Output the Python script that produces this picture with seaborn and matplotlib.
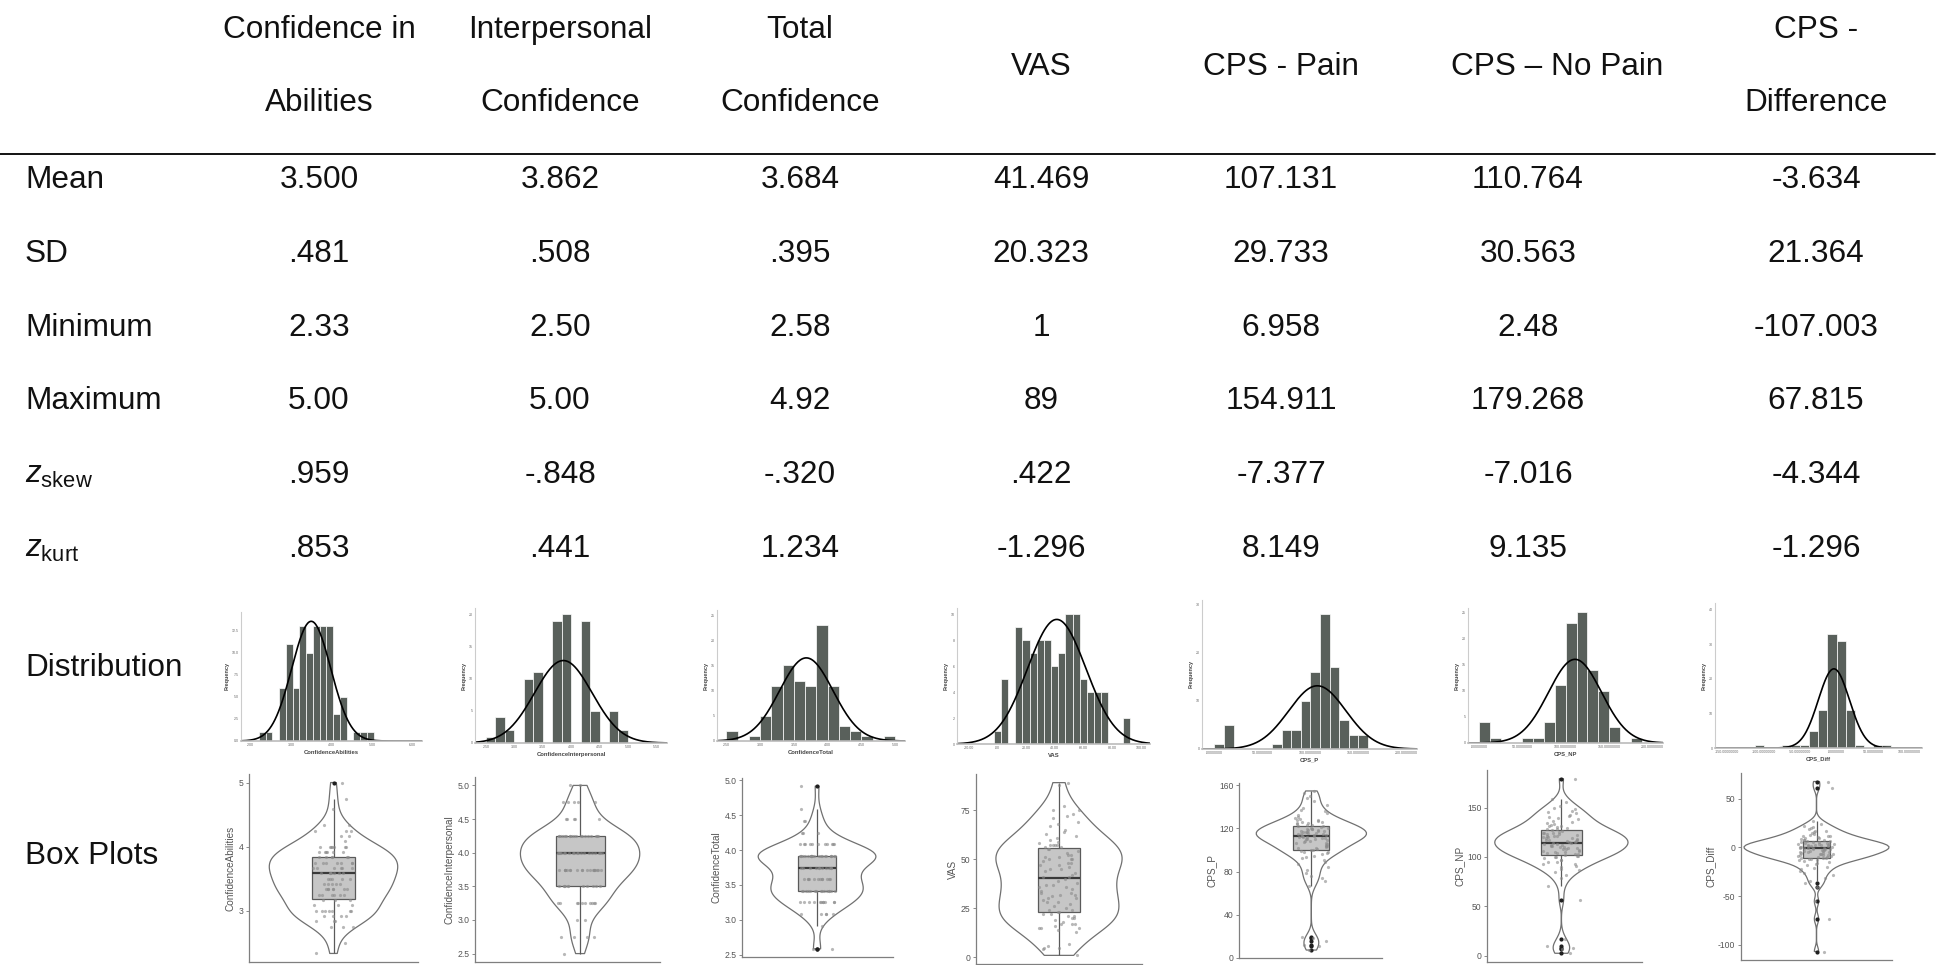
import numpy as np
import matplotlib
matplotlib.use("Agg")
import matplotlib.pyplot as plt
from matplotlib.lines import Line2D
import seaborn as sns

# ---------------- table contents ----------------
col_headers = ["Confidence in\nAbilities", "Interpersonal\nConfidence", "Total\nConfidence",
               "VAS", "CPS - Pain", "CPS \u2013 No Pain", "CPS -\nDifference"]
var_names = ["ConfidenceAbilities", "ConfidenceInterpersonal", "ConfidenceTotal",
             "VAS", "CPS_P", "CPS_NP", "CPS_Diff"]
stat_names = ["Mean", "SD", "Minimum", "Maximum",
              r"$z_{\mathrm{skew}}$", r"$z_{\mathrm{kurt}}$"]

mean_vals = ["3.500", "3.862", "3.684", "41.469", "107.131", "110.764", "-3.634"]
sd_vals = [".481", ".508", ".395", "20.323", "29.733", "30.563", "21.364"]
min_vals = ["2.33", "2.50", "2.58", "1", "6.958", "2.48", "-107.003"]
max_vals = ["5.00", "5.00", "4.92", "89", "154.911", "179.268", "67.815"]
zskew_vals = [".959", "-.848", "-.320", ".422", "-7.377", "-7.016", "-4.344"]
zkurt_vals = [".853", ".441", "1.234", "-1.296", "8.149", "9.135", "-1.296"]

# ---------------- sample data ----------------
ca_levels = [2.333, 2.5, 2.75, 2.833, 2.917, 3.0, 3.083, 3.167, 3.25, 3.333, 3.417, 3.5,
             3.583, 3.667, 3.75, 3.833, 3.917, 4.0, 4.083, 4.167, 4.25, 4.333, 4.583, 4.75, 5.0]
ca_counts = [1, 1, 3, 3, 4, 7, 3, 3, 6, 7, 5, 5, 7, 6, 7, 6, 6, 7, 1, 2, 3, 2, 1, 1, 1]

ci_levels = [2.5, 2.75, 3.0, 3.25, 3.5, 3.75, 4.0, 4.25, 4.5, 4.75, 5.0]
ci_counts = [1, 4, 2, 10, 11, 19, 20, 19, 5, 5, 2]

ct_levels = [2.583, 2.917, 3.083, 3.25, 3.417, 3.583, 3.75, 3.917, 4.083, 4.25, 4.417, 4.583, 4.917]
ct_counts = [2, 1, 5, 11, 15, 12, 11, 23, 11, 3, 2, 1, 1]

vas_values = [1, 4, 5, 5, 6, 7,
              13, 14, 15, 15, 15, 16, 17, 17, 17,
              18, 19, 20, 20, 21, 21, 22, 22,
              23, 23, 24, 24, 25, 26, 27,
              28, 28, 29, 30, 30, 31, 32, 32,
              33, 33, 34, 35, 36, 36, 37, 37,
              38, 39, 40, 41, 41, 42,
              43, 44, 45, 45, 46, 47, 47,
              48, 48, 49, 50, 50, 50, 51, 51, 52, 52,
              53, 54, 55, 55, 56, 56, 57, 57, 57, 57,
              58, 59, 60, 61, 62,
              63, 64, 65, 67,
              68, 69, 71, 72,
              73, 75, 75, 77,
              88, 89]

cps_p_values = [6.958,
                10.4, 11.9, 15.2, 17.8, 19.1,
                66.3,
                71.2, 73.8, 75.5, 78.9,
                81.6, 84.2, 86.9, 88.7,
                90.8, 92.1, 93.9, 94.6, 96.2, 97.0, 97.8, 98.4, 99.1, 99.6,
                100.3, 100.9, 101.7, 102.2, 103.0, 103.4, 104.1, 104.9, 105.6, 106.2,
                106.7, 107.5, 108.1, 108.8, 109.3, 109.9,
                110.1, 110.5, 110.9, 111.2, 111.8, 112.1, 112.5, 112.7, 113.0, 113.4,
                113.9, 114.1, 114.6, 114.8, 115.2, 115.7, 116.1, 116.3, 116.8, 117.2,
                117.5, 117.9, 118.0, 118.4, 118.9, 119.1, 119.4, 119.8,
                120.2, 120.8, 121.3, 121.9, 122.5, 123.2, 123.6, 124.3, 124.7, 125.4,
                126.0, 126.3, 127.1, 127.7, 128.1, 128.9, 129.6,
                130.8, 132.9, 134.2, 136.1, 137.4, 139.2,
                141.8, 145.3, 147.9,
                150.6, 153.1, 154.911]

cps_np_values = [2.48, 6.9, 8.2, 9.6,
                 17.4,
                 56.7,
                 71.0,
                 78.3, 82.1, 84.6, 86.8,
                 88.2, 89.9, 91.0, 92.4, 93.1, 94.7, 95.3, 96.6, 97.4, 98.6, 99.5,
                 100.3, 100.8, 101.5, 101.9, 102.6, 103.0, 103.7, 104.4, 104.8, 105.5,
                 106.1, 106.4, 107.2, 107.6, 108.3, 108.7, 109.4, 109.9, 110.5, 110.8,
                 111.6, 111.9, 112.3,
                 112.9, 113.2, 113.9, 114.4, 114.7, 115.4, 115.9, 116.2, 116.9, 117.4,
                 117.7, 118.5, 118.8, 119.4, 119.9, 120.2, 120.9, 121.4, 121.7, 122.5,
                 122.9, 123.3, 123.9, 124.1, 124.8,
                 125.6, 126.1, 127.0, 127.9, 128.4, 129.5, 130.3, 131.2, 131.8, 132.9,
                 133.6, 134.8, 135.5, 136.9,
                 138.1, 139.4, 140.2, 141.9, 142.8, 144.5, 145.3, 146.9, 148.2, 149.4,
                 151.8, 155.2, 158.9,
                 179.268]

cps_diff_values = [-107.003,
                   -73.5,
                   -55.4,
                   -40.2,
                   -36.8, -34.1, -31.2, -28.7, -25.9,
                   -24.3, -22.6, -21.1, -19.8, -18.2, -17.1, -15.9, -15.2, -14.1, -13.4, -12.8,
                   -12.3, -11.9, -11.2, -10.8, -10.6, -9.9, -9.5, -9.3, -8.6, -8.2,
                   -8.0, -7.4, -7.2, -6.6, -6.4, -5.8, -5.6, -5.0, -4.8, -4.2,
                   -3.9, -3.6, -3.2, -2.7, -2.5, -2.1, -1.6, -1.5, -1.0, -0.9,
                   -0.6, -0.4, -0.1,
                   0.3, 0.4, 0.9, 1.0, 1.5, 1.6, 2.1, 2.2, 2.7, 2.9,
                   3.3, 3.4, 3.9, 4.0, 4.5, 4.6, 5.1, 5.5, 5.7, 6.3,
                   6.6, 7.3, 7.6, 8.1, 8.9, 9.3, 10.1, 10.5, 11.3, 11.7,
                   12.2,
                   13.1, 13.7, 14.7, 15.4, 16.5, 17.4, 18.7, 19.7, 21.1, 22.4, 24.1,
                   27.2,
                   61.4,
                   67.815]

datasets = [np.repeat(ca_levels, ca_counts),
            np.repeat(ci_levels, ci_counts),
            np.repeat(ct_levels, ct_counts),
            np.array(vas_values, float),
            np.array(cps_p_values),
            np.array(cps_np_values),
            np.array(cps_diff_values)]

# ---------------- histogram axes settings ----------------
ci_edges = 2.5 + np.arange(16) / 6 + 1e-6
ci_edges[0] = 2.5 - 1e-6
hist_bins = [(26.5 + 2 * np.arange(18)) / 12,
             ci_edges,
             2.5 + np.arange(16) / 6,
             -2.5 + 5 * np.arange(20),
             10.0 * np.arange(17),
             12.5 * np.arange(16),
             -112.5 + 12.5 * np.arange(16)]
long_ticks = [".00000000", "50.00000000", "100.00000000", "150.00000000", "200.00000000"]
hist_xticks = [[2, 3, 4, 5, 6],
               [2.5, 3.0, 3.5, 4.0, 4.5, 5.0, 5.5],
               [2.5, 3.0, 3.5, 4.0, 4.5, 5.0],
               [-20, 0, 20, 40, 60, 80, 100],
               [0, 50, 100, 150, 200],
               [0, 50, 100, 150, 200],
               [-150, -100, -50, 0, 50, 100]]
hist_xticklabels = [["2.00", "3.00", "4.00", "5.00", "6.00"],
                    ["2.50", "3.00", "3.50", "4.00", "4.50", "5.00", "5.50"],
                    ["2.50", "3.00", "3.50", "4.00", "4.50", "5.00"],
                    ["-20.00", ".00", "20.00", "40.00", "60.00", "80.00", "100.00"],
                    long_ticks, long_ticks,
                    ["-150.00000000", "-100.00000000", "-50.00000000", ".00000000",
                     "50.00000000", "100.00000000"]]
hist_yticks = [[0, 2.5, 5, 7.5, 10, 12.5], [0, 5, 10, 15, 20], [0, 5, 10, 15, 20, 25],
               [0, 2, 4, 6, 8, 10], [0, 10, 20, 30], [0, 5, 10, 15, 20, 25], [0, 10, 20, 30, 40]]
hist_ytick_fmt = ["{:.1f}", "{:g}", "{:g}", "{:g}", "{:g}", "{:g}", "{:g}"]
hist_xlim = [(1.77, 6.23), (2.306, 5.688), (2.362, 5.145), (-28, 106.4),
             (-13, 211), (-12.7, 212.3), (-166.7, 117.2)]
hist_ylim = [14.6, 21, 26, 10.5, 31, 25.8, 41.9]
hist_rects = [(241, 612, 422, 741), (475, 608, 667, 743), (717, 610, 905, 741),
              (957, 608, 1150, 744), (1202, 600, 1417, 749), (1468, 608, 1663, 743),
              (1715, 603, 1922, 748)]

# ---------------- box/violin axes settings ----------------
box_yticks = [[3, 4, 5], [2.5, 3.0, 3.5, 4.0, 4.5, 5.0], [2.5, 3.0, 3.5, 4.0, 4.5, 5.0],
              [0, 25, 50, 75], [0, 40, 80, 120, 160], [0, 50, 100, 150], [-100, -50, 0, 50]]
box_ytick_fmt = ["{:g}", "{:.1f}", "{:.1f}", "{:g}", "{:g}", "{:g}", "{:g}"]
box_rects = [(249, 774, 418, 962), (475, 777, 660, 962), (742, 778, 893, 957),
             (976, 774, 1142, 964), (1239, 783, 1382, 958), (1487, 770, 1642, 962),
             (1741, 773, 1892, 960)]
violin_widths = [0.76, 0.645, 0.78, 0.76, 0.77, 0.86, 0.96]
box_widths = [0.25, 0.265, 0.25, 0.25, 0.25, 0.26, 0.18]
center_frac = [0.5, 0.568, 0.497, 0.5, 0.506, 0.48, 0.5]

# ---------------- layout ----------------
W, H = 1937, 965
hdr_x = [319, 560, 800, 1041, 1281, 1557, 1816]
val_x = [319, 560, 800, 1041, 1281, 1528, 1816]
row_base0, row_step = 188, 73.8
FS = 22.7

sns.set_style("white")
plt.rcParams["font.family"] = ["Liberation Sans", "DejaVu Sans"]
plt.rcParams["mathtext.fontset"] = "custom"
plt.rcParams["mathtext.rm"] = "Liberation Sans"
plt.rcParams["mathtext.it"] = "Liberation Sans:italic"

fig = plt.figure(figsize=(W / 100, H / 100), dpi=100)
fig.patch.set_facecolor("white")


def rect(l, t, r, b):
    return [l / W, 1 - b / H, (r - l) / W, (b - t) / H]


def put(x, y, s, ha="center"):
    fig.text(x / W, 1 - y / H, s, ha=ha, va="baseline", fontsize=FS, color="#111111")


# column headers
for x, h in zip(hdr_x, col_headers):
    lines = h.split("\n")
    ys = [38, 111] if len(lines) == 2 else [75]
    for line, y in zip(lines, ys):
        put(x, y, line)

fig.add_artist(Line2D([0.0, 0.999], [1 - 154 / H, 1 - 154 / H],
                      transform=fig.transFigure, color="black", linewidth=1.3))

# statistic rows
rows = [mean_vals, sd_vals, min_vals, max_vals, zskew_vals, zkurt_vals]
for k, (name, vals) in enumerate(zip(stat_names, rows)):
    y = row_base0 + k * row_step
    put(25, y, name, ha="left")
    for x, v in zip(val_x, vals):
        put(x, y, v)

put(25, 676, "Distribution", ha="left")
put(25, 864, "Box Plots", ha="left")

# ---------------- histograms with normal curves ----------------
for i, data in enumerate(datasets):
    ax = fig.add_axes(rect(*hist_rects[i]))
    edges = hist_bins[i]
    sns.histplot(x=data, bins=edges, ax=ax, color="#59605b", edgecolor="white",
                 linewidth=0.5, alpha=1.0, stat="count")
    mu, sd = float(mean_vals[i]), float(sd_vals[i])
    bw = edges[2] - edges[1]
    xs = np.linspace(hist_xlim[i][0], hist_xlim[i][1], 400)
    ys = len(data) * bw * np.exp(-0.5 * ((xs - mu) / sd) ** 2) / (sd * np.sqrt(2 * np.pi))
    sns.lineplot(x=xs, y=ys, ax=ax, color="black", linewidth=1.2)
    ax.set_xlim(*hist_xlim[i])
    ax.set_ylim(0, hist_ylim[i])
    ax.set_xticks(hist_xticks[i])
    ax.set_xticklabels(hist_xticklabels[i])
    ax.set_yticks(hist_yticks[i])
    ax.set_yticklabels([hist_ytick_fmt[i].format(t) for t in hist_yticks[i]])
    ax.tick_params(length=0, labelsize=2.6, labelcolor="#666666", pad=1.5)
    ax.set_xlabel(var_names[i], fontsize=4.2, fontweight="bold", color="#444444", labelpad=2)
    ax.set_ylabel("Frequency", fontsize=4, fontweight="bold", color="#444444", labelpad=2)
    for s in ("top", "right"):
        ax.spines[s].set_visible(False)
    ax.spines["left"].set_color("#cccccc")
    ax.spines["left"].set_linewidth(0.8)
    ax.spines["bottom"].set_color("#bbbbbb")
    ax.spines["bottom"].set_linewidth(1.2)
    ax.set_facecolor("white")

# ---------------- violin + box + jittered points ----------------
np.random.seed(7)
for i, data in enumerate(datasets):
    ax = fig.add_axes(rect(*box_rects[i]))
    sd = np.std(data, ddof=1)
    q75, q25 = np.percentile(data, [75, 25])
    bw_factor = 0.9 * min(sd, (q75 - q25) / 1.34) * len(data) ** -0.2 / sd
    sns.violinplot(y=data, ax=ax, cut=0, inner=None, fill=False, color="#707070",
                   linecolor="#707070", linewidth=0.9, width=violin_widths[i],
                   bw_method=bw_factor)
    sns.boxplot(y=data, ax=ax, width=box_widths[i], color="#c6c6c6", saturation=1,
                linecolor="#5a5a5a", linewidth=0.9, fliersize=2.0,
                flierprops=dict(marker="o", markerfacecolor="#1e1e1e",
                                markeredgecolor="#1e1e1e"),
                medianprops=dict(color="#3a3a3a", linewidth=1.6),
                capprops=dict(linewidth=0))
    sns.stripplot(y=data, ax=ax, jitter=0.12, size=2.3, color="#8a8a8a", alpha=0.6,
                  linewidth=0, zorder=4)
    lo, hi = data.min(), data.max()
    pad = 0.05 * (hi - lo)
    ax.set_ylim(lo - pad, hi + pad)
    c = center_frac[i]
    ax.set_xlim(-c, 1 - c)
    ax.set_yticks(box_yticks[i])
    ax.set_yticklabels([box_ytick_fmt[i].format(t) for t in box_yticks[i]])
    ax.tick_params(axis="y", labelsize=6.2, labelcolor="#555555", length=2.5,
                   width=0.6, color="#777777", pad=1.5, left=True)
    ax.tick_params(axis="x", bottom=False, labelbottom=False)
    ax.set_xlabel("")
    ax.set_ylabel(var_names[i], fontsize=7.2, color="#555555", labelpad=2)
    for s in ("top", "right"):
        ax.spines[s].set_visible(False)
    for s in ("left", "bottom"):
        ax.spines[s].set_color("#7f7f7f")
        ax.spines[s].set_linewidth(0.9)
    ax.set_facecolor("none")

fig.savefig("out.png", dpi=100, facecolor="white")
